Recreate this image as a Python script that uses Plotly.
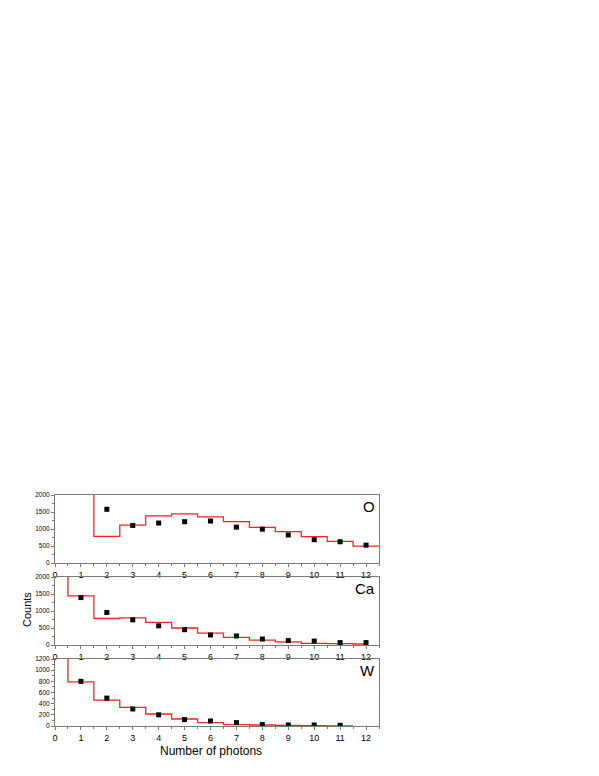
import plotly.graph_objects as go
from plotly.subplots import make_subplots

# measured counts (points) per number of photons
o_x = [2, 3, 4, 5, 6, 7, 8, 9, 10, 11, 12]
o_counts = [1580, 1105, 1175, 1215, 1235, 1055, 995, 825, 685, 625, 525]
ca_x = [1, 2, 3, 4, 5, 6, 7, 8, 9, 10, 11, 12]
ca_counts = [1395, 955, 740, 565, 450, 295, 265, 175, 130, 115, 70, 70]
w_x = [1, 2, 3, 4, 5, 6, 7, 8, 9, 10, 11]
w_counts = [800, 500, 305, 200, 115, 90, 60, 25, 18, 18, 12]

# simulated histogram (step) - bin edges and values; first bin is off-scale
o_edges = [0.5, 1.5, 2.5, 3.5, 4.5, 5.5, 6.5, 7.5, 8.5, 9.5, 10.5, 11.5, 12.5]
o_hist = [3000, 785, 1115, 1385, 1445, 1355, 1215, 1045, 925, 775, 635, 495]
ca_edges = [-0.5, 0.5, 1.5, 2.5, 3.5, 4.5, 5.5, 6.5, 7.5, 8.5, 9.5, 10.5, 11.5, 12.0]
ca_hist = [3000, 1445, 780, 800, 665, 500, 350, 225, 145, 90, 50, 40, 30]
w_edges = [-0.5, 0.5, 1.5, 2.5, 3.5, 4.5, 5.5, 6.5, 7.5, 8.5, 9.5, 10.5, 11.5]
w_hist = [2000, 790, 465, 335, 215, 125, 60, 25, 18, 12, 6, 2]

panels = [
    ("O", o_x, o_counts, o_edges, o_hist, [0, 2000], 500, 250),
    ("Ca", ca_x, ca_counts, ca_edges, ca_hist, [0, 2000], 500, 250),
    ("W", w_x, w_counts, w_edges, w_hist, [0, 1200], 200, 100),
]

fig = make_subplots(rows=3, cols=1)

W, H = 599, 776
off = 8  # page body margin
x_dom = [(55 - off) / W, (379 - off) / W]
y_doms = [(495, 563), (577, 645), (659, 726)]
frame = "#7a7a7a"

for i, (name, px_, py_, edges, hist, yr, dt, mdt) in enumerate(panels, start=1):
    # step line: repeat last value at the final edge
    fig.add_trace(go.Scatter(
        x=edges, y=hist + [hist[-1]], mode="lines", line_shape="hv",
        line=dict(color="#ff2020", width=1.3), showlegend=False
    ), row=i, col=1)
    fig.add_trace(go.Scatter(
        x=px_, y=py_, mode="markers",
        marker=dict(symbol="square", size=5, color="black"), showlegend=False
    ), row=i, col=1)

    top, bot = y_doms[i - 1]
    fig.update_xaxes(
        domain=x_dom, range=[0, 12.5], tickmode="linear", tick0=0, dtick=1,
        ticks="outside", ticklen=3, tickcolor=frame, showline=True,
        linecolor=frame, linewidth=1, mirror=True, showgrid=False, zeroline=False,
        minor=dict(ticks="outside", ticklen=2, dtick=0.5, tickcolor=frame),
        tickfont=dict(family="Arial", size=9, color="black"), automargin=False,
        row=i, col=1
    )
    fig.update_yaxes(
        domain=[1 - (bot - off) / H, 1 - (top - off) / H], range=yr, tickmode="linear",
        tick0=0, dtick=dt, ticks="outside", ticklen=3, tickcolor=frame, showline=True,
        linecolor=frame, linewidth=1, mirror=True, showgrid=False, zeroline=False,
        minor=dict(ticks="outside", ticklen=2, dtick=mdt, tickcolor=frame),
        tickfont=dict(family="Arial", size=6.5, color="black"), automargin=False,
        row=i, col=1
    )
    fig.add_annotation(
        x=1, y=1, xref=f"x{'' if i == 1 else i} domain", yref=f"y{'' if i == 1 else i} domain",
        text=name, showarrow=False, xanchor="right", yanchor="top", xshift=-2, yshift=-1,
        font=dict(family="Arial", size=15, color="black")
    )

# axis titles placed as annotations
fig.add_annotation(
    x=(211 - off) / W, y=1 - (751 - off) / H, xref="paper", yref="paper",
    text="Number of photons", showarrow=False, xanchor="center", yanchor="middle",
    font=dict(family="Arial", size=12, color="black")
)
fig.add_annotation(
    x=(27 - off) / W, y=1 - (610 - off) / H, xref="paper", yref="paper",
    text="Counts", showarrow=False, textangle=-90, xanchor="center", yanchor="middle",
    font=dict(family="Arial", size=11, color="black")
)

fig.update_layout(
    width=W, height=H, margin=dict(l=0, r=0, t=0, b=0),
    plot_bgcolor="white", paper_bgcolor="white"
)

fig.write_html("out.html")
